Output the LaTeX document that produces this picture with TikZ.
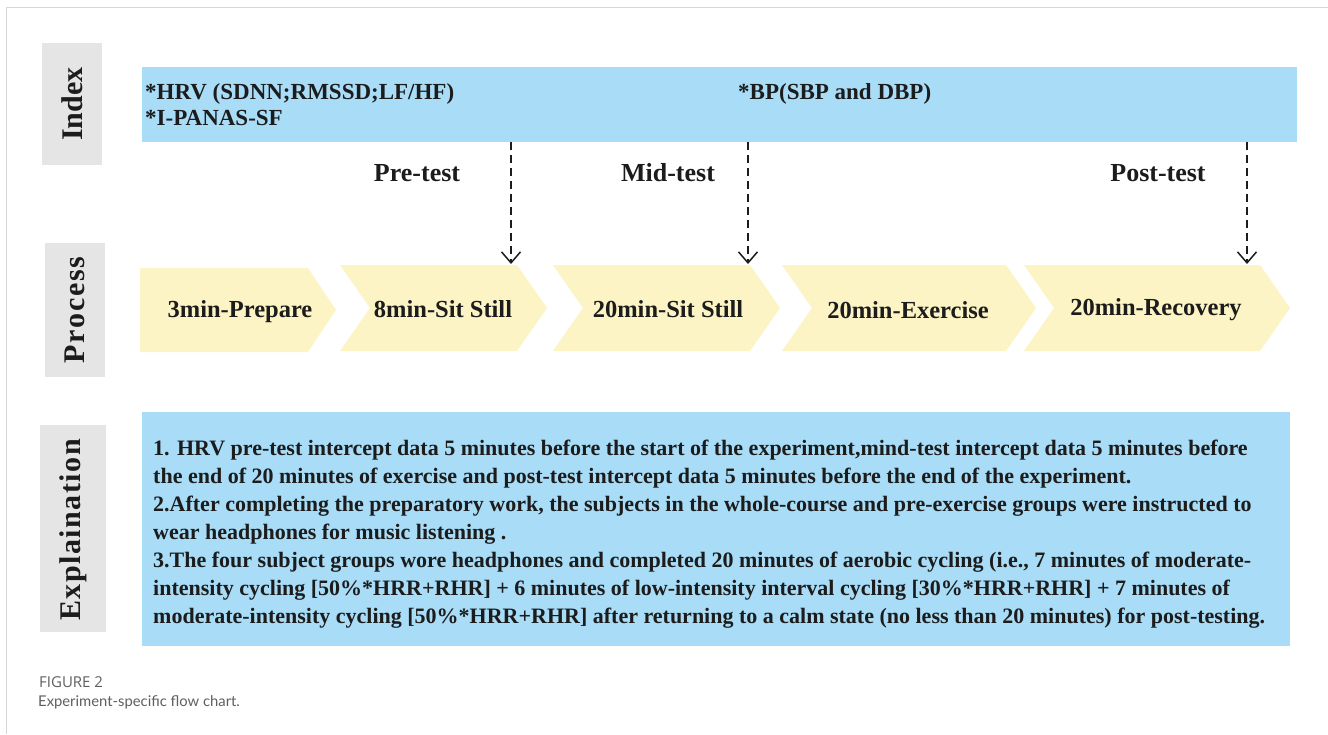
\documentclass[tikz,border=0pt]{standalone}
\usepackage{fontspec}
\setmainfont{Liberation Serif}
\newfontfamily\capfont{Open Sans}
\newfontfamily\capfontb{Lato}
\usetikzlibrary{arrows.meta}
\definecolor{barblue}{RGB}{168,220,247}
\definecolor{stageyellow}{RGB}{252,244,196}
\definecolor{sidegray}{RGB}{229,229,229}
\definecolor{txt}{RGB}{28,28,28}
\definecolor{framegray}{RGB}{214,214,214}
\definecolor{capgray}{RGB}{95,95,95}
\newcommand\chevshape[4]{% x-left, x-topright, top, bottom
  \fill[stageyellow] (#1,#3) -- (#2,#3) -- (#2+30,{(#3+#4)/2}) -- (#2,#4) -- (#1,#4) -- (#1+30,{(#3+#4)/2}) -- cycle;}
\begin{document}
\begin{tikzpicture}[x=1pt,y=-1pt,
  sidebox/.style={fill=sidegray},
  sidelabel/.style={rotate=90, text=txt, inner sep=0pt, font=\bfseries\fontsize{30}{32}\selectfont},
  bartext/.style={anchor=base west, text=txt, inner sep=0pt, font=\bfseries\fontsize{23}{26}\selectfont},
  testlabel/.style={text=txt, inner sep=0pt, font=\bfseries\fontsize{26}{28}\selectfont},
  stagetext/.style={text=txt, inner sep=0pt, font=\bfseries\fontsize{24.5}{26}\selectfont},
  expltext/.style={anchor=base west, text=txt, inner sep=0pt, font=\bfseries\fontsize{22}{26}\selectfont},
  testarrow/.style={draw=txt, line width=1.5pt, dash pattern=on 8pt off 5pt,
    -{Straight Barb[length=11pt,width=19pt]}},
  captext/.style={anchor=base west, inner sep=0pt, text=capgray}
]
\useasboundingbox (0,0) rectangle (1328,734);
\fill[white] (0,0) rectangle (1328,734);
\draw[framegray, line width=1.2pt] (6.5,734) -- (6.5,7.5) -- (1328,7.5);

% side boxes
\fill[sidegray] (42,43) rectangle (102,165);
\node[sidelabel] (lindex) at (72,104) {Index};
\fill[sidegray] (45,243) rectangle (105,377);
\node[sidelabel] (lprocess) at (75,310) {\addfontfeature{LetterSpace=6}Process};
\fill[sidegray] (40,425) rectangle (106,632);
\node[sidelabel] (lexpl) at (73,530) {\addfontfeature{LetterSpace=5}Explaination};

% index bar
\fill[barblue] (142,67) rectangle (1297,142);
\node[bartext] (hrv) at (145,99) {*HRV (SDNN;RMSSD;LF/HF)};
\node[bartext] (panas) at (145,125) {*I-PANAS-SF};
\node[bartext] (bp) at (738,99) {*BP(SBP and DBP)};

% test labels
\node[testlabel] (pre) at (417,173) {Pre-test};
\node[testlabel] (mid) at (668,173) {Mid-test};
\node[testlabel] (post) at (1158,173) {Post-test};

% process chevrons
\fill[stageyellow] (140,268) -- (308,268) -- (336,310) -- (308,352) -- (140,352) -- cycle;
\chevshape{340}{517}{265}{351}
\chevshape{553}{750}{265}{351}
\chevshape{782}{1006}{265}{351}
\chevshape{1024}{1260}{265}{351}
\node[stagetext] (s1) at (240,312) {3min-Prepare};
\node[stagetext] (s2) at (443,309) {8min-Sit Still};
\node[stagetext] (s3) at (668,309) {20min-Sit Still};
\node[stagetext] (s4) at (908,310) {20min-Exercise};
\node[stagetext] (s5) at (1156,310) {20min-Recovery};

% arrows
\coordinate (a1s) at (511,142); \coordinate (a1e) at (511,264);
\coordinate (a2s) at (748,142); \coordinate (a2e) at (748,264);
\coordinate (a3s) at (1247,142); \coordinate (a3e) at (1247,264);
\draw[testarrow] (a1s) -- (a1e);
\draw[testarrow] (a2s) -- (a2e);
\draw[testarrow] (a3s) -- (a3e);

% explanation
\fill[barblue] (142,412) rectangle (1290,646);
\node[expltext] (e1) at (153,455) {1. HRV pre-test intercept data 5 minutes before the start of the experiment,mind-test intercept data 5 minutes before};
\node[expltext] (e2) at (153,483) {the end of 20 minutes of exercise and post-test intercept data 5 minutes before the end of the experiment.};
\node[expltext] (e3) at (153,511) {2.After completing the preparatory work, the subjects in the whole-course and pre-exercise groups were instructed to};
\node[expltext] (e4) at (153,539) {wear headphones for music listening .};
\node[expltext] (e5) at (153,567) {3.The four subject groups wore headphones and completed 20 minutes of aerobic cycling (i.e., 7 minutes of moderate-};
\node[expltext] (e6) at (153,595) {intensity cycling [50\%*HRR+RHR] + 6 minutes of low-intensity interval cycling [30\%*HRR+RHR] + 7 minutes of};
\node[expltext] (e7) at (153,623) {moderate-intensity cycling [50\%*HRR+RHR] after returning to a calm state (no less than 20 minutes) for post-testing.};

% caption
\node[captext, font=\capfont\fontsize{15}{17}\selectfont] (fig) at (39,687) {FIGURE 2};
\node[captext, font=\capfontb\fontsize{14.8}{18}\selectfont] (cap) at (38,706) {Experiment-specific flow chart.};
\end{tikzpicture}
\end{document}
